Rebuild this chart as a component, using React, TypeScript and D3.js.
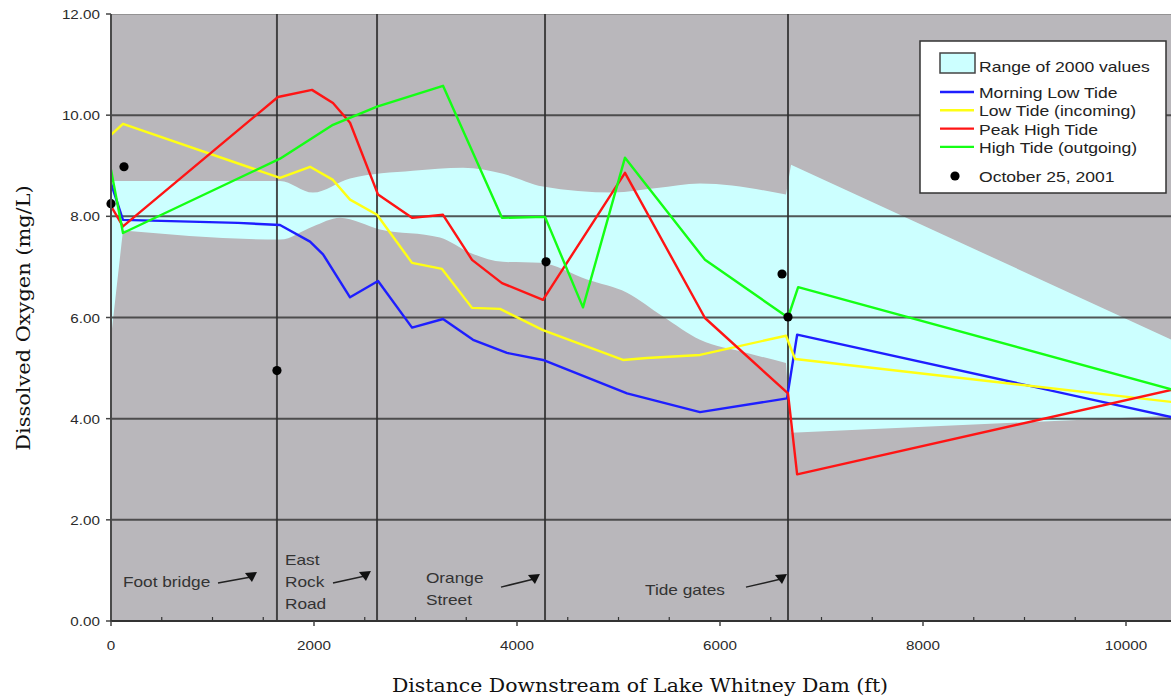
import React, { useEffect, useRef } from 'react';
import * as d3 from 'd3';

type Pt = [number, number];

// distance downstream (ft), dissolved oxygen (mg/L)
const bandUpper: Pt[] = [
  [0, 8.7], [1665, 8.7], [1990, 8.47], [2355, 8.75], [2975, 8.9], [3468, 8.96],
  [3862, 8.84], [4256, 8.59], [4946, 8.47], [5379, 8.56], [5803, 8.65],
  [6650, 8.43], [6700, 9.02], [10450, 5.56],
];
const bandLower: Pt[] = [
  [0, 5.6], [118, 7.72], [1665, 7.54], [1990, 7.8], [2256, 7.97], [2650, 7.74],
  [3241, 7.58], [3537, 7.28], [3862, 7.1], [4227, 7.08], [4690, 6.75],
  [5084, 6.49], [5438, 6.02], [5803, 5.56], [6266, 5.3], [6650, 5.1],
  [6700, 3.72], [10450, 4.06],
];

const morningLow: Pt[] = [
  [0, 8.65], [118, 7.93], [1250, 7.87], [1665, 7.83], [1961, 7.5], [2089, 7.25],
  [2355, 6.4], [2631, 6.72], [2966, 5.8], [3271, 5.97], [3567, 5.56], [3901, 5.3],
  [4256, 5.16], [5084, 4.5], [5803, 4.13], [6660, 4.4], [6760, 5.66], [10450, 4.03],
];
const lowIncoming: Pt[] = [
  [0, 9.61], [118, 9.83], [1665, 8.76], [1961, 8.98], [2187, 8.72], [2355, 8.33],
  [2621, 8.03], [2966, 7.08], [3261, 6.96], [3557, 6.19], [3833, 6.17], [4256, 5.75],
  [5044, 5.16], [5280, 5.2], [5803, 5.26], [6650, 5.64], [6740, 5.18], [10450, 4.33],
];
const peakHigh: Pt[] = [
  [0, 8.2], [118, 7.8], [1645, 10.36], [1980, 10.5], [2187, 10.24], [2355, 9.85],
  [2631, 8.43], [2966, 7.97], [3271, 8.03], [3557, 7.14], [3852, 6.68], [4256, 6.35],
  [5064, 8.86], [5852, 5.99], [6670, 4.5], [6760, 2.9], [10450, 4.57],
];
const highOutgoing: Pt[] = [
  [0, 8.92], [118, 7.67], [1665, 9.14], [2187, 9.81], [2621, 10.17], [3271, 10.58],
  [3852, 7.97], [4276, 7.99], [4650, 6.2], [5064, 9.16], [5852, 7.14], [6670, 6.0],
  [6770, 6.6], [10450, 4.58],
];
const oct2001: Pt[] = [
  [0, 8.25], [128, 8.98], [1635, 4.95], [4286, 7.1], [6611, 6.86], [6670, 6.01],
];

const seriesNames = ['Morning Low Tide', 'Low Tide (incoming)', 'Peak High Tide', 'High Tide (outgoing)'];
const seriesColors = ['#1e1eff', '#ffff14', '#ff1414', '#14ff14'];
const seriesData = [morningLow, lowIncoming, peakHigh, highOutgoing];

const yTicks = [0, 2, 4, 6, 8, 10, 12];
const xTicks = [0, 2000, 4000, 6000, 8000, 10000];

// landmarks: line position, label lines, label anchor and arrow (ft, mg/L)
const landmarks = [
  { ft: 1635, lines: ['Foot bridge'], text: [118, 0.67], arrow: [[1054, 0.75], [1379, 0.87]] },
  { ft: 2621, lines: ['East', 'Rock', 'Road'], text: [1714, 1.11], arrow: [[2187, 0.75], [2502, 0.89]] },
  { ft: 4276, lines: ['Orange', 'Street'], text: [3103, 0.75], arrow: [[3842, 0.67], [4167, 0.83]] },
  { ft: 6670, lines: ['Tide gates'], text: [5261, 0.51], arrow: [[6256, 0.67], [6601, 0.83]] },
];

const SANS = '"Liberation Sans", Arial, sans-serif';
const SERIF = '"DejaVu Serif", serif';

// the original lettering is a bit wider than a plain Arial
const stretch = (sel: any, k = 1.17) =>
  sel.each(function (this: SVGTextElement) {
    const w = this.getComputedTextLength();
    this.setAttribute('textLength', String(w * k));
    this.setAttribute('lengthAdjust', 'spacingAndGlyphs');
  });

export default function App() {
  const svgRef = useRef<SVGSVGElement>(null);

  useEffect(() => {
    const svg = d3.select(svgRef.current);
    svg.selectAll('*').remove();

    const left = 111, right = 1171, top = 14, bottom = 621;
    const x = d3.scaleLinear().domain([0, 10000]).range([left, 1126]);
    const y = d3.scaleLinear().domain([0, 12]).range([bottom, top]);

    svg.append('defs').append('clipPath').attr('id', 'plotClip')
      .append('rect').attr('x', left).attr('y', top)
      .attr('width', right - left).attr('height', bottom - top);

    svg.append('rect')
      .attr('x', left).attr('y', top)
      .attr('width', right - left).attr('height', bottom - top)
      .attr('fill', '#b9b7bb');

    const plot = svg.append('g').attr('clip-path', 'url(#plotClip)');
    const line = d3.line<Pt>().x(d => x(d[0])).y(d => y(d[1]));
    const smooth = d3.line<Pt>().x(d => x(d[0])).y(d => y(d[1])).curve(d3.curveMonotoneX);
    const L = (p: Pt) => `L${x(p[0])},${y(p[1])}`;

    // range of 2000 values: smooth above the tide gates, straight below them
    const up = (smooth(bandUpper.slice(0, 12)) as string) + bandUpper.slice(12).map(L).join('');
    const lowRev = bandLower.slice().reverse();
    const low = lowRev.slice(0, 2).map(L).join('')
      + (smooth(lowRev.slice(2, lowRev.length - 1)) as string).replace(/^M/, 'L')
      + L(lowRev[lowRev.length - 1]);
    plot.append('path')
      .attr('d', up + low + 'Z')
      .attr('fill', '#ccffff');

    // horizontal grid
    plot.selectAll('line.grid')
      .data(yTicks.filter(v => v > 0))
      .join('line')
      .attr('x1', left).attr('x2', right)
      .attr('y1', d => y(d)).attr('y2', d => y(d))
      .attr('stroke', d => (d === 12 ? '#8c8c8c' : '#3a3a3a'))
      .attr('stroke-opacity', 0.85)
      .attr('stroke-width', 2);

    // landmark lines
    plot.selectAll('line.mark')
      .data(landmarks)
      .join('line')
      .attr('x1', d => x(d.ft)).attr('x2', d => x(d.ft))
      .attr('y1', top).attr('y2', bottom)
      .attr('stroke', '#2e2e2e')
      .attr('stroke-opacity', 0.85)
      .attr('stroke-width', 2);

    // series
    seriesData.forEach((data, i) => {
      plot.append('path')
        .datum(data)
        .attr('d', line)
        .attr('fill', 'none')
        .attr('stroke', seriesColors[i])
        .attr('stroke-width', 2.4)
        .attr('stroke-linejoin', 'round');
    });

    // October 25, 2001
    svg.append('g').selectAll('circle')
      .data(oct2001)
      .join('circle')
      .attr('cx', d => x(d[0]))
      .attr('cy', d => y(d[1]))
      .attr('r', 4.6)
      .attr('fill', '#000');

    // axes
    svg.append('line').attr('x1', left).attr('x2', left).attr('y1', top).attr('y2', bottom + 1)
      .attr('stroke', '#4a4a4a').attr('stroke-width', 2);
    svg.append('line').attr('x1', left - 1).attr('x2', right).attr('y1', bottom).attr('y2', bottom)
      .attr('stroke', '#333').attr('stroke-width', 2);

    svg.selectAll('line.ytick')
      .data(yTicks)
      .join('line')
      .attr('x1', left - 5).attr('x2', left)
      .attr('y1', d => y(d)).attr('y2', d => y(d))
      .attr('stroke', '#444').attr('stroke-width', 1.5);

    const yLab = svg.append('g').selectAll('text')
      .data(yTicks)
      .join('text')
      .attr('x', 100)
      .attr('y', d => y(d) + 5)
      .attr('text-anchor', 'end')
      .attr('font-family', SANS)
      .attr('font-size', 13)
      .attr('fill', '#2a2a2a')
      .text(d => d.toFixed(2));
    stretch(yLab);

    const minor = d3.range(500, 10500, 500).filter(v => v % 2000 !== 0);
    svg.selectAll('line.xminor')
      .data(minor)
      .join('line')
      .attr('x1', d => x(d)).attr('x2', d => x(d))
      .attr('y1', bottom - 4).attr('y2', bottom)
      .attr('stroke', '#333').attr('stroke-width', 1.2);
    svg.selectAll('line.xmajor')
      .data(xTicks)
      .join('line')
      .attr('x1', d => x(d)).attr('x2', d => x(d))
      .attr('y1', bottom).attr('y2', bottom + 5)
      .attr('stroke', '#444').attr('stroke-width', 1.5);

    const xLab = svg.append('g').selectAll('text')
      .data(xTicks)
      .join('text')
      .attr('x', d => x(d))
      .attr('y', 650)
      .attr('text-anchor', 'middle')
      .attr('font-family', SANS)
      .attr('font-size', 13)
      .attr('fill', '#2a2a2a')
      .text(d => String(d));
    stretch(xLab);

    // axis titles
    const xTitle = svg.append('text')
      .attr('x', 640).attr('y', 692)
      .attr('text-anchor', 'middle')
      .attr('font-family', SERIF)
      .attr('font-size', 19)
      .attr('fill', '#111')
      .text('Distance Downstream of Lake Whitney Dam (ft)');
    stretch(xTitle, 1.075);
    const yTitle = svg.append('text')
      .attr('transform', 'translate(30,318) rotate(-90)')
      .attr('text-anchor', 'middle')
      .attr('font-family', SERIF)
      .attr('font-size', 19)
      .attr('fill', '#111')
      .text('Dissolved Oxygen  (mg/L)');
    stretch(yTitle, 1.1);

    // landmark annotations
    const ann = svg.append('g');
    landmarks.forEach(m => {
      m.lines.forEach((t, i) => {
        const tx = ann.append('text')
          .attr('x', x(m.text[0]))
          .attr('y', y(m.text[1]) + i * 22)
          .attr('font-family', SANS)
          .attr('font-size', 15)
          .attr('fill', '#333')
          .text(t);
        stretch(tx, 1.15);
      });
      const [a, b] = m.arrow;
      const hx = x(b[0]), hy = y(b[1]);
      ann.append('line')
        .attr('x1', x(a[0])).attr('y1', y(a[1]))
        .attr('x2', hx).attr('y2', hy)
        .attr('stroke', '#222').attr('stroke-width', 1.5);
      ann.append('path')
        .attr('d', `M${hx - 6},${hy - 4}L${hx + 6},${hy - 5}L${hx + 1},${hy + 5}Z`)
        .attr('fill', '#111');
    });

    // legend
    const lg = svg.append('g');
    lg.append('rect')
      .attr('x', 920).attr('y', 41).attr('width', 246).attr('height', 152)
      .attr('fill', '#fff').attr('stroke', '#333').attr('stroke-width', 1.5);
    lg.append('rect')
      .attr('x', 940).attr('y', 53).attr('width', 35).attr('height', 20)
      .attr('fill', '#ccffff').attr('stroke', '#444').attr('stroke-width', 1.5);
    const lgText = (t: string, ty: number) =>
      stretch(lg.append('text')
        .attr('x', 979).attr('y', ty)
        .attr('font-family', SANS)
        .attr('font-size', 15)
        .attr('fill', '#222')
        .text(t));
    lgText('Range of 2000 values', 72);
    seriesNames.forEach((n, i) => {
      const ly = 92 + i * 18.3;
      lg.append('line')
        .attr('x1', 940).attr('x2', 974)
        .attr('y1', ly).attr('y2', ly)
        .attr('stroke', seriesColors[i]).attr('stroke-width', 2.4);
      lgText(n, ly + 6);
    });
    lg.append('circle').attr('cx', 955).attr('cy', 176).attr('r', 4.6).attr('fill', '#000');
    lgText('October 25, 2001', 182);
  }, []);

  return (
    <svg
      ref={svgRef}
      width={1171}
      height={700}
      style={{ position: 'absolute', left: 0, top: 0, background: '#fff' }}
    />
  );
}
